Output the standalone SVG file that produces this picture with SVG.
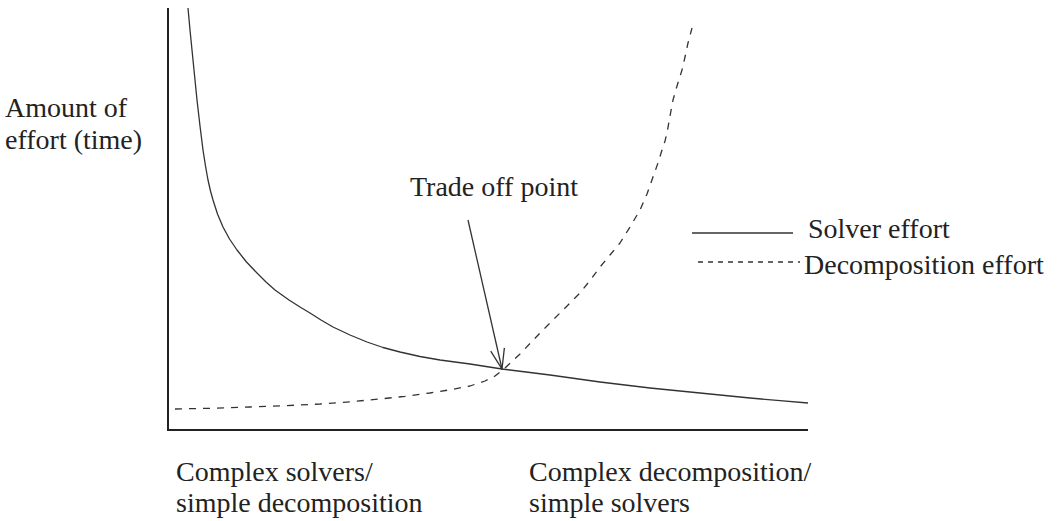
<svg xmlns="http://www.w3.org/2000/svg" width="1060" height="521" viewBox="0 0 1060 521">
  <style>
    .lbl { font-family: "Liberation Serif", "Times New Roman", serif; font-size: 28px; fill: #222; }
    .axis { stroke: #222; stroke-width: 2; fill: none; }
    .curve { stroke: #333; stroke-width: 1.3; fill: none; stroke-linejoin: round; }
    .dash-curve { stroke-dasharray: 7 7; }
    .dash-key { stroke-dasharray: 5 5; }
  </style>
  <defs>
    <marker id="open-arrow" markerUnits="userSpaceOnUse" viewBox="0 0 22 16" refX="21" refY="8" markerWidth="22" markerHeight="16" orient="auto">
      <path d="M1,1 L21,8 L1,15" fill="none" stroke="#333" stroke-width="1.3"/>
    </marker>
  </defs>

  <rect width="1060" height="521" fill="#fff"/>

  <!-- axes -->
  <g id="axes">
    <path class="axis" d="M168,8 V430 H808"/>
  </g>

  <!-- effort curves -->
  <g id="curves">
    <polyline id="solver-curve" class="curve" points="188,8 190,30 192,50 194.5,75 197,100 200,126 203,150 205.5,166 208,180 210.5,191 213,200 217.5,214 223,227 229.5,239 237,250 246.5,262 257,273 266,282 275,290 282,295 289,300 300,307 310,313 321,320 333,327 350,335 367,342 383,347.5 400,352 420,356.5 440,360 455,362 470,364 486,366.5 502,369 526,372 550,375 575,378.5 600,382 625,385 650,388 675,390.5 700,393 725,395.5 750,398 780,400.7 808,403"/>
    <polyline id="decomposition-curve" class="curve dash-curve" points="175,409 210,408.3 250,407 285,405.7 320,404 350,401.8 380,399 405,396.3 430,393 450,389.8 470,386 485,381 495,376 505,368 520,354 530,343.5 540,333 550,323 560,313 570,303 580,293 590,280.5 600,267 610,255 620,243 630,227 640,210 647,194 653,177 658,163 662,150 665,141 667,133 670,116 673,100 677,86 682,70 685,57 688,43 692,28"/>
  </g>

  <!-- connectors -->
  <g id="connectors">
    <line x1="468" y1="220" x2="502" y2="369" stroke="#333" stroke-width="1.3" marker-end="url(#open-arrow)"/>
  </g>

  <!-- legend -->
  <g id="legend">
    <g id="legend-solver">
      <line class="curve" x1="692" y1="233" x2="793" y2="233"/>
      <text class="lbl" x="808" y="238">Solver effort</text>
    </g>
    <g id="legend-decomposition">
      <line class="curve dash-key" x1="698" y1="262" x2="800" y2="262"/>
      <text class="lbl" x="804" y="274">Decomposition effort</text>
    </g>
  </g>

  <!-- labels -->
  <g id="y-label">
    <text class="lbl" x="5" y="117">Amount of</text>
    <text class="lbl" x="5" y="149">effort (time)</text>
  </g>
  <g id="tradeoff-label">
    <text class="lbl" x="410" y="196">Trade off point</text>
  </g>
  <g id="x-label-left">
    <text class="lbl" x="176" y="481">Complex solvers/</text>
    <text class="lbl" x="176" y="512">simple decomposition</text>
  </g>
  <g id="x-label-right">
    <text class="lbl" x="529" y="481">Complex decomposition/</text>
    <text class="lbl" x="529" y="512">simple solvers</text>
  </g>
</svg>
